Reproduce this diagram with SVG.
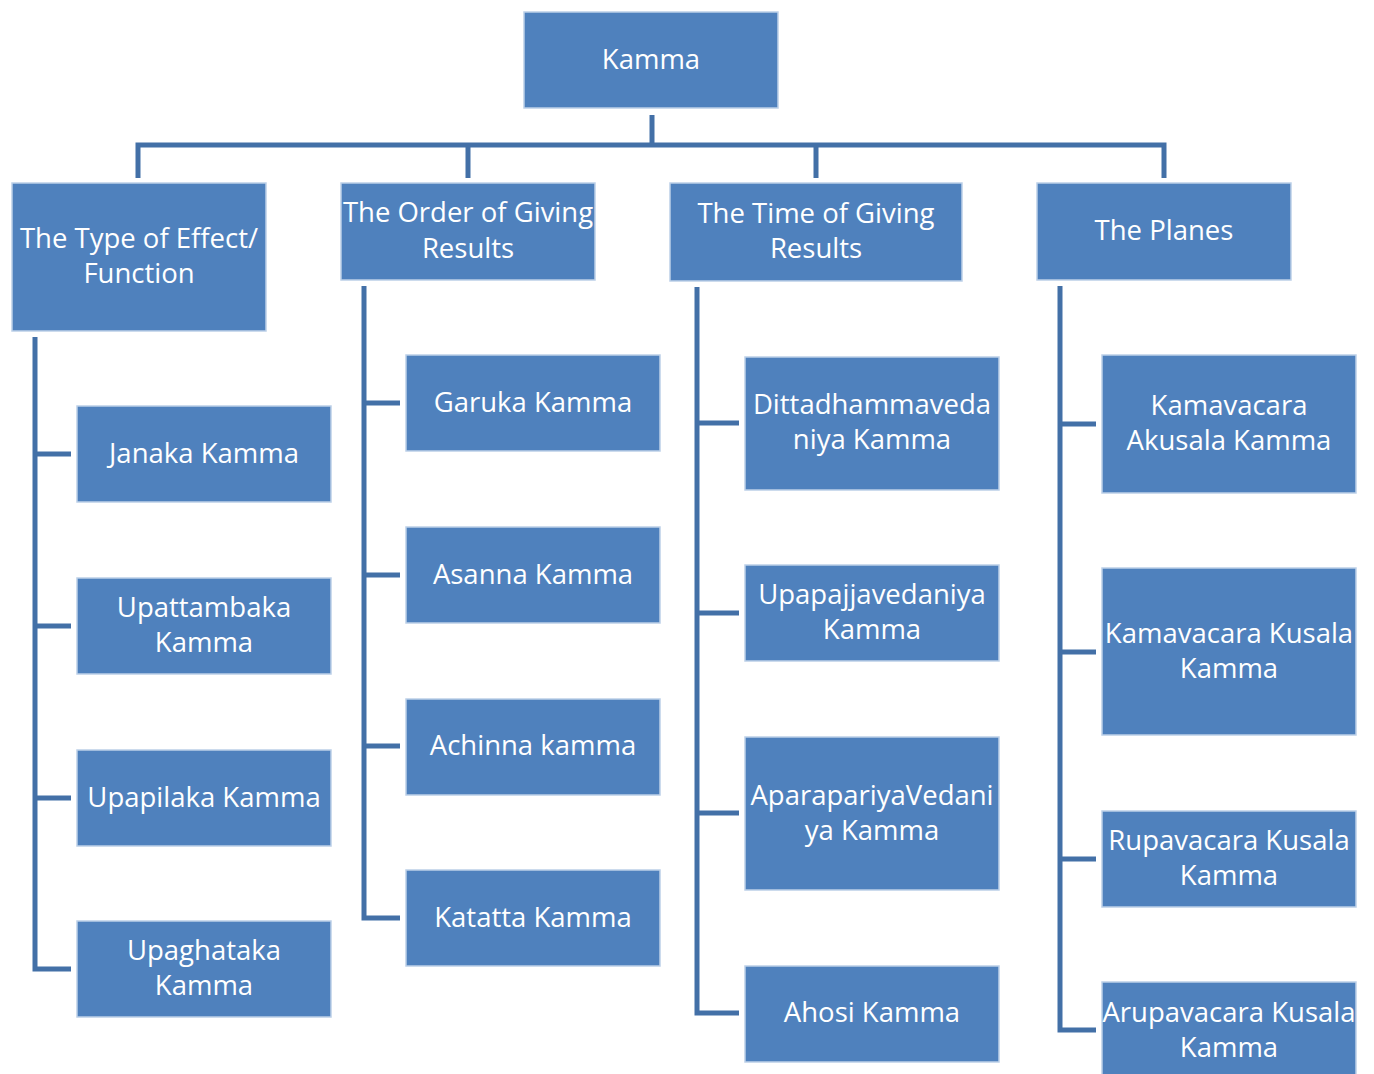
<svg xmlns="http://www.w3.org/2000/svg" width="1374" height="1074" viewBox="0 0 1374 1074">
<style>
.n rect{fill:#4F81BD;stroke:#BCD0E8;stroke-width:1.5}
.n text{fill:#FFFFFF;font-family:"Open Sans","Noto Sans",sans-serif;font-size:27.5px;text-anchor:middle}
.c path{fill:none;stroke:#4370A7;stroke-width:5}
</style>
<rect width="1374" height="1074" fill="#FFFFFF"/>
<g class="c" id="connectors">
<path d="M652 115V145M138 178V145H1164V178M468 145V178M816 145V178"/>
<path d="M35 337V969H71M35 454H71M35 626H71M35 798H71"/>
<path d="M364 286V918H400M364 403H400M364 575H400M364 746H400"/>
<path d="M697 287V1013H739M697 423H739M697 613H739M697 813H739"/>
<path d="M1060 286V1030H1096M1060 424H1096M1060 652H1096M1060 859H1096"/>
</g>
<g class="n" id="kamma"><rect x="524" y="12" width="254" height="96"/><text x="651" y="69">Kamma</text></g>
<g class="n" id="type"><rect x="12" y="183" width="254" height="148"/><text x="139" y="248">The Type of Effect/</text><text x="139" y="283">Function</text></g>
<g class="n" id="order"><rect x="341" y="183" width="254" height="97"/><text x="468" y="222">The Order of Giving</text><text x="468" y="258">Results</text></g>
<g class="n" id="time"><rect x="670" y="183" width="292" height="98"/><text x="816" y="223">The Time of Giving</text><text x="816" y="258">Results</text></g>
<g class="n" id="planes"><rect x="1037" y="183" width="254" height="97"/><text x="1164" y="240">The Planes</text></g>

<g class="n" id="janaka"><rect x="77" y="406" width="254" height="96"/><text x="204" y="463">Janaka Kamma</text></g>
<g class="n" id="upattambaka"><rect x="77" y="578" width="254" height="96"/><text x="204" y="617">Upattambaka</text><text x="204" y="652">Kamma</text></g>
<g class="n" id="upapilaka"><rect x="77" y="750" width="254" height="96"/><text x="204" y="807">Upapilaka Kamma</text></g>
<g class="n" id="upaghataka"><rect x="77" y="921" width="254" height="96"/><text x="204" y="960">Upaghataka</text><text x="204" y="995">Kamma</text></g>

<g class="n" id="garuka"><rect x="406" y="355" width="254" height="96"/><text x="533" y="412">Garuka Kamma</text></g>
<g class="n" id="asanna"><rect x="406" y="527" width="254" height="96"/><text x="533" y="584">Asanna Kamma</text></g>
<g class="n" id="achinna"><rect x="406" y="699" width="254" height="96"/><text x="533" y="755">Achinna kamma</text></g>
<g class="n" id="katatta"><rect x="406" y="870" width="254" height="96"/><text x="533" y="927">Katatta Kamma</text></g>

<g class="n" id="ditta"><rect x="745" y="357" width="254" height="133"/><text x="872" y="414">Dittadhammaveda</text><text x="872" y="449">niya Kamma</text></g>
<g class="n" id="upapajja"><rect x="745" y="565" width="254" height="96"/><text x="872" y="604">Upapajjavedaniya</text><text x="872" y="639">Kamma</text></g>
<g class="n" id="aparapariya"><rect x="745" y="737" width="254" height="153"/><text x="872" y="805">AparapariyaVedani</text><text x="872" y="840">ya Kamma</text></g>
<g class="n" id="ahosi"><rect x="745" y="966" width="254" height="96"/><text x="872" y="1022">Ahosi Kamma</text></g>

<g class="n" id="kamavacara-akusala"><rect x="1102" y="355" width="254" height="138"/><text x="1229" y="415">Kamavacara</text><text x="1229" y="450">Akusala Kamma</text></g>
<g class="n" id="kamavacara-kusala"><rect x="1102" y="568" width="254" height="167"/><text x="1229" y="643">Kamavacara Kusala</text><text x="1229" y="678">Kamma</text></g>
<g class="n" id="rupavacara"><rect x="1102" y="811" width="254" height="96"/><text x="1229" y="850">Rupavacara Kusala</text><text x="1229" y="885">Kamma</text></g>
<g class="n" id="arupavacara"><rect x="1102" y="982" width="254" height="100"/><text x="1229" y="1022">Arupavacara Kusala</text><text x="1229" y="1057">Kamma</text></g>
</svg>
